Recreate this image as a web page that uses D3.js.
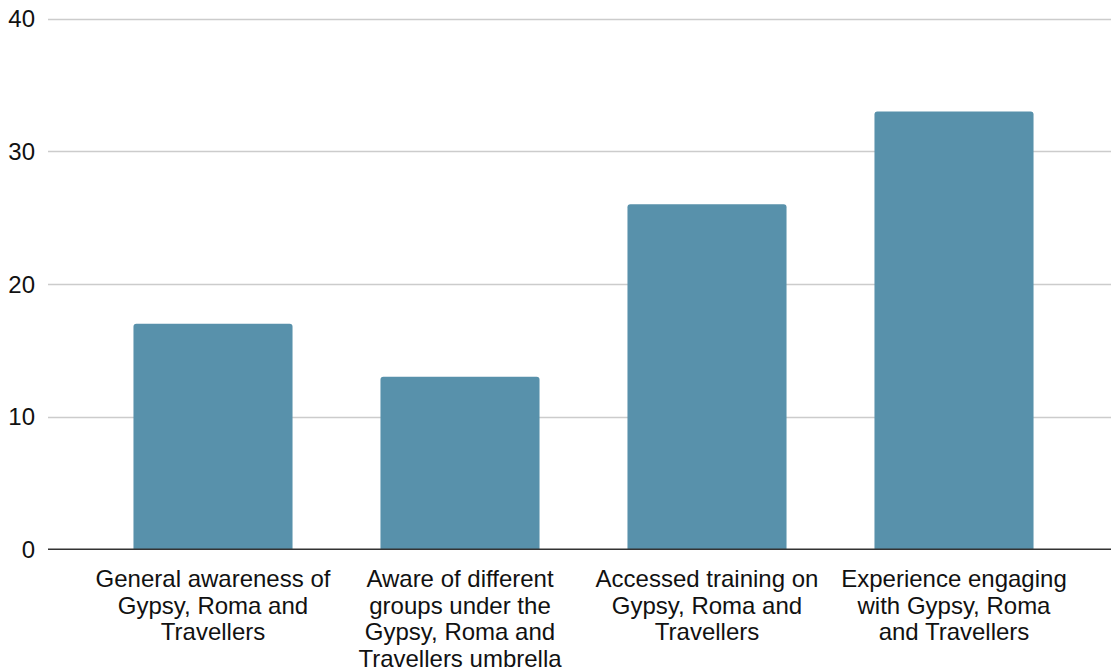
<!DOCTYPE html>
<html>
<head>
<meta charset="utf-8">
<script src="https://cdn.jsdelivr.net/npm/d3@7"></script>
<style>
  html, body { margin: 0; padding: 0; background: #fff; }
  svg { display: block; font-family: "Liberation Sans", Arial, sans-serif; }
</style>
</head>
<body>
<svg id="chart" width="1111" height="672"></svg>
<script>
// Survey responses per category
const categories = [
  "General awareness of Gypsy, Roma and Travellers",
  "Aware of different groups under the Gypsy, Roma and Travellers umbrella",
  "Accessed training on Gypsy, Roma and Travellers",
  "Experience engaging with Gypsy, Roma and Travellers"
];
const categoryLines = [
  ["General awareness of", "Gypsy, Roma and", "Travellers"],
  ["Aware of different", "groups under the", "Gypsy, Roma and", "Travellers umbrella"],
  ["Accessed training on", "Gypsy, Roma and", "Travellers"],
  ["Experience engaging", "with Gypsy, Roma", "and Travellers"]
];
const values = [17, 13, 26, 33];
const yTicks = [0, 10, 20, 30, 40];

const svg = d3.select("#chart");
const gridLeft = 48, gridRight = 1111;
const fontSize = 24;

const x = d3.scaleBand()
  .domain(categories)
  .range([89.5, 1077.5])
  .paddingInner(0.356)
  .paddingOuter(0.178);

const y = d3.scaleLinear()
  .domain([0, 40])
  .range([549.3, 18.5]);

// Horizontal gridlines
svg.append("g")
  .selectAll("line")
  .data(yTicks.filter(d => d !== 0))
  .join("line")
  .attr("x1", gridLeft).attr("x2", gridRight)
  .attr("y1", d => Math.round(y(d)) + 0.5).attr("y2", d => Math.round(y(d)) + 0.5)
  .attr("stroke", "#cccccc")
  .attr("stroke-width", 1.3);

// Y tick labels
svg.append("g")
  .selectAll("text")
  .data(yTicks)
  .join("text")
  .attr("x", 35)
  .attr("y", d => y(d))
  .attr("dy", "0.36em")
  .attr("text-anchor", "end")
  .attr("font-size", fontSize)
  .attr("fill", "#111")
  .text(d => d);

// Bars with slightly rounded top corners
const r = 3;
function barPath(cat, v) {
  const x0 = x(cat), x1 = x0 + x.bandwidth();
  const y0 = y(0), y1 = y(v);
  return `M${x0},${y0}V${y1 + r}Q${x0},${y1} ${x0 + r},${y1}H${x1 - r}Q${x1},${y1} ${x1},${y1 + r}V${y0}Z`;
}
svg.append("g")
  .selectAll("path")
  .data(values)
  .join("path")
  .attr("d", (v, i) => barPath(categories[i], v))
  .attr("fill", "#5891ab");

// Baseline
svg.append("line")
  .attr("x1", gridLeft).attr("x2", gridRight)
  .attr("y1", y(0)).attr("y2", y(0))
  .attr("stroke", "#333")
  .attr("stroke-width", 1.5);

// Category labels, wrapped over several lines
const xl = svg.append("g");
categories.forEach((cat, i) => {
  const cx = x(cat) + x.bandwidth() / 2;
  const t = xl.append("text")
    .attr("text-anchor", "middle")
    .attr("font-size", fontSize)
    .attr("fill", "#111");
  categoryLines[i].forEach((line, j) => {
    t.append("tspan")
      .attr("x", cx)
      .attr("y", 587 + j * 26.5)
      .text(line);
  });
});
</script>
</body>
</html>
